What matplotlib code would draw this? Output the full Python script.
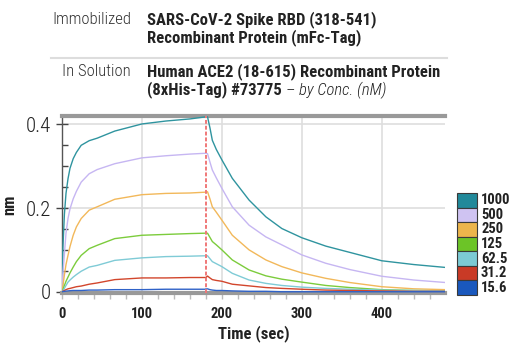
import matplotlib
matplotlib.use("Agg")
import matplotlib.pyplot as plt
from matplotlib import font_manager
from matplotlib.patches import Rectangle
from matplotlib.lines import Line2D
from matplotlib.ticker import MultipleLocator

fonts = font_manager.fontManager.ttflist
avail = {f.name for f in fonts}
FAM = 'DejaVu Sans'
for cand in ['Roboto Condensed', 'Liberation Sans Narrow', 'Archivo Narrow', 'PT Sans Narrow',
             'Asap Condensed', 'Barlow Semi Condensed']:
    if cand in avail:
        FAM = cand
        break
plt.rcParams['font.family'] = [FAM, 'DejaVu Sans']

# ---------------- data ----------------
t_assoc = [0, 1, 3, 5, 7.5, 10, 14, 18, 24, 34, 44, 66, 100, 130, 160, 180]
t_dissoc = [180, 182, 185, 188, 193, 200, 213, 234, 255, 275, 300, 330, 360, 400, 440, 480]

conc_labels = ["1000", "500", "250", "125", "62.5", "31.2", "15.6"]

assoc_1000 = [0, 0.10, 0.185, 0.235, 0.27, 0.295, 0.318, 0.333, 0.35, 0.361, 0.367, 0.384, 0.401, 0.408, 0.413, 0.418]
assoc_500 = [0, 0.04, 0.09, 0.14, 0.175, 0.198, 0.222, 0.24, 0.262, 0.282, 0.292, 0.306, 0.32, 0.325, 0.329, 0.331]
assoc_250 = [0, 0.012, 0.04, 0.065, 0.087, 0.108, 0.135, 0.155, 0.175, 0.195, 0.203, 0.221, 0.232, 0.235, 0.236, 0.238]
assoc_125 = [0, 0.004, 0.015, 0.025, 0.035, 0.045, 0.059, 0.072, 0.087, 0.103, 0.111, 0.127, 0.135, 0.137, 0.139, 0.14]
assoc_62 = [0, 0.002, 0.008, 0.015, 0.023, 0.028, 0.035, 0.041, 0.049, 0.059, 0.063, 0.075, 0.081, 0.084, 0.085, 0.086]
assoc_31 = [0, 0.001, 0.003, 0.005, 0.007, 0.008, 0.010, 0.012, 0.0136, 0.018, 0.021, 0.029, 0.033, 0.033, 0.034, 0.034]
assoc_15 = [0, 0.0005, 0.001, 0.0015, 0.002, 0.0025, 0.003, 0.003, 0.003, 0.004, 0.004, 0.005, 0.005, 0.006, 0.006, 0.006]

dissoc_1000 = [0.418, 0.418, 0.392, 0.362, 0.340, 0.315, 0.271, 0.219, 0.179, 0.151, 0.129, 0.109, 0.094, 0.074, 0.065, 0.058]
dissoc_500 = [0.331, 0.330, 0.310, 0.291, 0.272, 0.247, 0.203, 0.159, 0.131, 0.112, 0.088, 0.068, 0.053, 0.037, 0.028, 0.022]
dissoc_250 = [0.238, 0.239, 0.222, 0.203, 0.190, 0.171, 0.135, 0.100, 0.076, 0.060, 0.045, 0.032, 0.022, 0.012, 0.007, 0.005]
dissoc_125 = [0.140, 0.140, 0.130, 0.120, 0.112, 0.100, 0.076, 0.052, 0.038, 0.030, 0.023, 0.015, 0.010, 0.005, 0.003, 0.002]
dissoc_62 = [0.086, 0.086, 0.079, 0.072, 0.067, 0.060, 0.044, 0.028, 0.020, 0.015, 0.011, 0.008, 0.006, 0.004, 0.003, 0.002]
dissoc_31 = [0.034, 0.0375, 0.033, 0.029, 0.027, 0.025, 0.018, 0.014, 0.010, 0.008, 0.006, 0.004, 0.003, 0.002, 0.001, 0.001]
dissoc_15 = [0.006, 0.007, 0.005, 0.004, 0.003, 0.003, 0.002, 0.001, 0.001, 0.0, 0.0, 0.0, 0.0, 0.0, 0.0, 0.0]

assoc_all = [assoc_1000, assoc_500, assoc_250, assoc_125, assoc_62, assoc_31, assoc_15]
dissoc_all = [dissoc_1000, dissoc_500, dissoc_250, dissoc_125, dissoc_62, dissoc_31, dissoc_15]

line_colors = ["#2f949f", "#c6b6f2", "#f2b85a", "#7ccc3c", "#7fcbd6", "#d2462c", "#2f62c8"]
patch_colors = ["#21899a", "#cfc3f2", "#ecb54c", "#6cc427", "#7ccad4", "#c93a26", "#1a58bd"]

switch_time = 180

# ---------------- figure ----------------
W, H = 520, 350
fig = plt.figure(figsize=(W / 100, H / 100), dpi=100)

def fx(px):
    return px / W

def fy(py):
    return 1 - py / H

# header
hdr_size = 12
lab_kw = dict(fontsize=hdr_size, color='#333333', fontweight='light')
bold_kw = dict(fontsize=hdr_size, color='#222222', fontweight='bold')
fig.text(fx(131), fy(20), "Immobilized", ha='right', va='center', **lab_kw)
fig.text(fx(147), fy(20), "SARS-CoV-2 Spike RBD (318-541)", ha='left', va='center', **bold_kw)
fig.text(fx(147), fy(38), "Recombinant Protein (mFc-Tag)", ha='left', va='center', **bold_kw)
fig.add_artist(Line2D([fx(51), fx(447)], [fy(58), fy(58)], color='#dddddd', lw=1.5))
fig.text(fx(131), fy(72), "In Solution", ha='right', va='center', **lab_kw)
fig.text(fx(147), fy(72), "Human ACE2 (18-615) Recombinant Protein", ha='left', va='center', **bold_kw)
t1 = fig.text(fx(147), fy(90), "(8xHis-Tag) #73775 ", ha='left', va='center', **bold_kw)
fig.canvas.draw()
bb = t1.get_window_extent()
fig.text(bb.x1 / W, fy(90), "\u2013 by Conc. (nM)", ha='left', va='center', fontsize=hdr_size,
         fontstyle='italic', fontweight='light', color='#222222')

# axes
ax_left, ax_right, ax_top, ax_bottom = 62, 445, 116, 293
ax = fig.add_axes([fx(ax_left), fy(ax_bottom), fx(ax_right - ax_left), (ax_bottom - ax_top) / H])
ax.set_xlim(0, 479)
ax.set_ylim(-0.003, 0.42)

ax.grid(True, color='#dedede', lw=1.2)
ax.set_axisbelow(True)
ax.xaxis.set_major_locator(MultipleLocator(100))
ax.xaxis.set_minor_locator(MultipleLocator(20))
ax.yaxis.set_major_locator(MultipleLocator(0.2))
ax.yaxis.set_minor_locator(MultipleLocator(0.05))
ax.set_yticks([0, 0.2, 0.4])
ax.set_yticklabels(["0", "0.2", "0.4"])

for i in range(len(conc_labels)):
    ax.plot(t_assoc, assoc_all[i], color=line_colors[i], lw=1.0, zorder=3)
    ax.plot(t_dissoc, dissoc_all[i], color=line_colors[i], lw=1.0, zorder=3)

ax.axhline(0, color='#777777', lw=0.8, zorder=2)
ax.axvline(switch_time, color='#f07878', lw=1.4, ls=(0, (2, 1)), zorder=4)

ax.spines['right'].set_visible(False)
ax.spines['top'].set_color('#999999')
ax.spines['top'].set_linewidth(3)
ax.spines['bottom'].set_color('#999999')
ax.spines['bottom'].set_linewidth(3)
ax.spines['left'].set_color('#555555')
ax.spines['left'].set_linewidth(1.0)

ax.tick_params(axis='y', which='major', direction='inout', length=8, width=1, color='#444444',
               labelsize=15, pad=4, labelcolor='#222222')
ax.tick_params(axis='y', which='minor', direction='in', length=4, width=1, color='#444444')
ax.tick_params(axis='x', which='both', direction='out', length=4, width=1, color='#bbbbbb',
               labelsize=10.5, pad=6, labelcolor='#222222')
for lab in ax.get_yticklabels():
    lab.set_fontweight('light')
for lab in ax.get_xticklabels():
    lab.set_fontweight('bold')

ax.set_xlabel("Time (sec)", fontsize=12, fontweight='bold', labelpad=3, color='#222222')
ax.set_ylabel("nm", fontsize=12, fontweight='bold', labelpad=6, color='#222222')

# legend
lg_x0, lg_x1 = 457, 477
lg_top, lg_bot = 193, 295
h = (lg_bot - lg_top) / len(conc_labels)
for i, lab in enumerate(conc_labels):
    y0 = lg_top + i * h
    fig.add_artist(Rectangle((fx(lg_x0), fy(y0 + h)), fx(lg_x1 - lg_x0), h / H,
                             facecolor=patch_colors[i], edgecolor='#3a3a3a', lw=0.8))
    fig.text(fx(481), fy(y0 + h / 2), lab, ha='left', va='center', fontsize=10.5,
             fontweight='bold', color='#222222')

fig.savefig("out.png", dpi=100)
